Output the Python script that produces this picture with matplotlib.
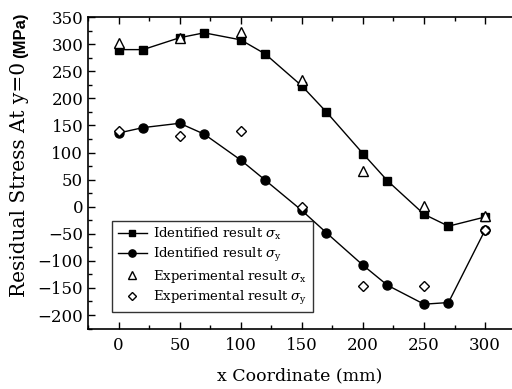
import matplotlib
matplotlib.use("Agg")
import matplotlib.pyplot as plt
from matplotlib.ticker import MultipleLocator

#--data--#
x_id = [0, 20, 50, 70, 100, 120, 150, 170, 200, 220, 250, 270, 300]
sx_id = [290, 290, 312, 321, 308, 282, 223, 175, 98, 48, -14, -36, -19]
sy_id = [136, 146, 154, 134, 86, 49, -7, -48, -108, -145, -180, -177, -43]

x_exp = [0, 50, 100, 150, 200, 250, 300]
sx_exp = [302, 312, 322, 234, 65, 1, -18]
sy_exp = [140, 131, 140, 0, -146, -146, -43]

plt.rcParams["font.family"] = ["DejaVu Serif"]
plt.rcParams["mathtext.fontset"] = "dejavuserif"

fig = plt.figure(figsize=(5.12, 3.89), dpi=100)
ax = fig.add_axes([0.172, 0.154, 0.828, 0.802])

ax.plot(x_id, sx_id, "k-", marker="s", ms=6, lw=1, label=r"Identified result $\sigma_{\rm x}$")
ax.plot(x_id, sy_id, "k-", marker="o", ms=6.5, lw=1, label=r"Identified result $\sigma_{\rm y}$")
ax.plot(x_exp, sx_exp, ls="none", marker="^", ms=7, mfc="white", mec="k", mew=1,
        label=r"Experimental result $\sigma_{\rm x}$")
ax.plot(x_exp, sy_exp, ls="none", marker="D", ms=5, mfc="white", mec="k", mew=1,
        label=r"Experimental result $\sigma_{\rm y}$")

ax.set_xlim(-25, 322)
ax.set_ylim(-226, 350)
ax.xaxis.set_major_locator(MultipleLocator(50))
ax.xaxis.set_minor_locator(MultipleLocator(25))
ax.yaxis.set_major_locator(MultipleLocator(50))
ax.yaxis.set_minor_locator(MultipleLocator(25))
ax.tick_params(which="both", direction="in", top=True, right=False, labelsize=12, width=1)
ax.tick_params(which="major", length=5)
ax.tick_params(which="minor", length=3)
ax.tick_params(axis="x", which="major", pad=6)
ax.spines["right"].set_visible(False)
for s in ["left", "bottom", "top"]:
    ax.spines[s].set_linewidth(1.2)

ax.set_xlabel("x Coordinate (mm)", fontsize=12.5, labelpad=9)

#--y label: serif part plus bold sans (MPa), sharing one baseline--#
fig.text(25 / 512, 1 - 297 / 389, "Residual Stress At y=0", rotation=90, fontsize=14.5,
         ha="left", va="baseline", rotation_mode="anchor")
fig.text(25 / 512, 1 - 13 / 389, "(MPa)", rotation=90, fontsize=12, fontweight="bold",
         family="Liberation Sans", ha="right", va="baseline", rotation_mode="anchor")

leg = ax.legend(loc="lower left", bbox_to_anchor=(0.057, 0.054), borderaxespad=0,
                fontsize=9.5, frameon=True, fancybox=False, edgecolor="k",
                handlelength=2.2, handletextpad=0.5, labelspacing=0.3, markerscale=0.8)
leg.get_frame().set_linewidth(1)

fig.savefig("out.png", dpi=100)
